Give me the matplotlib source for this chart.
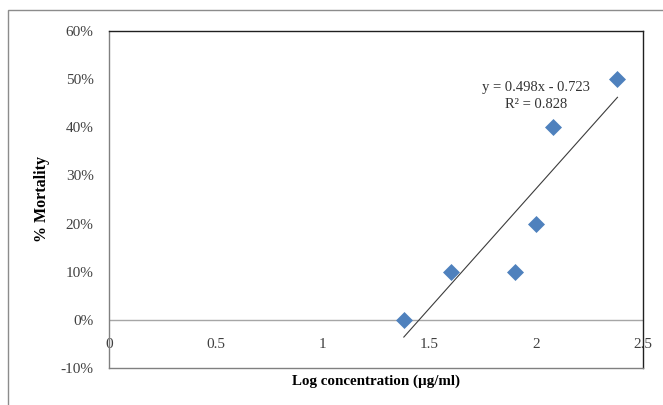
import numpy as np
import matplotlib.pyplot as plt
from matplotlib.patches import Rectangle
from matplotlib.ticker import PercentFormatter

# данные
log_conc = [1.38, 1.60, 1.90, 2.00, 2.08, 2.38]
mortality = [0.00, 0.10, 0.10, 0.20, 0.40, 0.50]
slope, intercept, r2 = 0.498, -0.723, 0.828

x_ticks = [0, 0.5, 1, 1.5, 2, 2.5]
x_tick_labels = ["0", "0.5", "1", "1.5", "2", "2.5"]
y_ticks = [-0.1, 0, 0.1, 0.2, 0.3, 0.4, 0.5, 0.6]

plt.rcParams['font.family'] = ['Liberation Serif', 'DejaVu Serif']
plt.rcParams['axes.unicode_minus'] = False

fig = plt.figure(figsize=(6.63, 4.05), dpi=100)
ax = fig.add_axes([0.1644, 0.0914, 0.8056, 0.8321])

# внешняя рамка диаграммы
fig.patches.append(Rectangle((0.012, -0.1), 1.1, 1.075, transform=fig.transFigure,
                             fill=False, edgecolor='#8c8c8c', linewidth=1.0))

ax.axhline(0, color='#a6a6a6', linewidth=1.0, zorder=1)

ax.scatter(log_conc, mortality, marker='D', s=75, color='#4f81bd', zorder=3,
           linewidths=0)

# линия тренда
xt = np.array([min(log_conc), max(log_conc)])
ax.plot(xt, slope * xt + intercept, color='#3c3c3c', linewidth=0.8, zorder=2)

ax.text(2.0, 0.482, f"y = {slope:.3f}x - {abs(intercept):.3f}", ha='center',
        va='center', fontsize=10.5, color='#333333')
ax.text(2.0, 0.447, f"R\u00b2 = {r2:.3f}", ha='center', va='center',
        fontsize=10.5, color='#333333')

ax.set_xlim(0, 2.5)
ax.set_ylim(-0.1, 0.6)
ax.set_xticks(x_ticks)
ax.set_xticklabels(x_tick_labels)
ax.set_yticks(y_ticks)
ax.yaxis.set_major_formatter(PercentFormatter(1.0, decimals=0))

ax.tick_params(axis='y', length=0, pad=11, labelsize=11, labelcolor='#404040')
ax.tick_params(axis='x', length=0, pad=-21.5, labelsize=11, labelcolor='#404040')

ax.set_xlabel("Log concentration (µg/ml)", fontsize=10.8, fontweight='bold',
              labelpad=5)
ax.set_ylabel("% Mortality", fontsize=11.5, fontweight='bold', labelpad=8)

for side in ['top', 'right']:
    ax.spines[side].set_color('#202020')
    ax.spines[side].set_linewidth(1.0)
for side in ['left', 'bottom']:
    ax.spines[side].set_color('#808080')
    ax.spines[side].set_linewidth(1.0)

fig.savefig("out.png", dpi=100)
